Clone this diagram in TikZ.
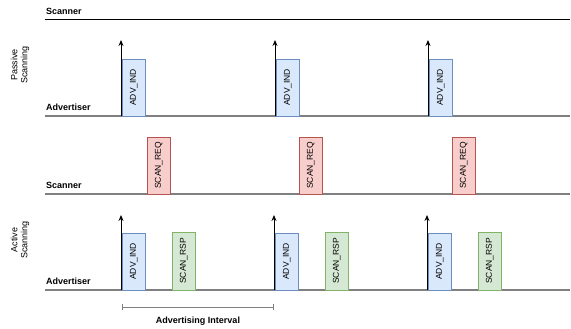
\documentclass[tikz,border=0pt]{standalone}
\usepackage{fontspec}
\setmainfont{Liberation Sans}
\usetikzlibrary{arrows.meta,positioning}
\definecolor{advfill}{HTML}{DAE8FC}
\definecolor{advdraw}{HTML}{6C8EBF}
\definecolor{reqfill}{HTML}{F8CECC}
\definecolor{reqdraw}{HTML}{B85450}
\definecolor{rspfill}{HTML}{D5E8D4}
\definecolor{rspdraw}{HTML}{82B366}
\definecolor{axis}{HTML}{808080}

\begin{document}
\begin{tikzpicture}[
        x=1pt, y=1pt,
        pkt/.style={rectangle, draw, rotate=90, anchor=north west, inner sep=0pt,
            minimum width=57pt, minimum height=23pt, font=\fontsize{8.5}{10}\selectfont},
        adv/.style={pkt, fill=advfill, draw=advdraw},
        req/.style={pkt, fill=reqfill, draw=reqdraw},
        rsp/.style={pkt, fill=rspfill, draw=rspdraw, minimum width=58pt},
        lane/.style={anchor=west, inner sep=0pt, font=\fontsize{9}{10}\selectfont\bfseries},
        side/.style={rotate=90, align=center, font=\fontsize{9}{10}\selectfont},
        timeline/.style={draw=axis, line width=1.3pt},
        tick/.style={-{Stealth[length=6pt,width=5pt]}, line width=0.9pt}
    ]
        \useasboundingbox (0,0) rectangle (571,329);

        % passive scanning
        \coordinate (ps-w) at (45,309);
        \coordinate (ps-e) at (570,309);
        \coordinate (pa-w) at (45,213);
        \coordinate (pa-e) at (570,213);
        \draw[line width=1pt] (ps-w) -- (ps-e);
        \draw[timeline] (pa-w) -- (pa-e);
        \node[lane] (ps-lbl) at (46,318) {Scanner};
        \node[lane] (pa-lbl) at (46,222) {Advertiser};
        \node[side] (passive) at (20,264) {Passive\\Scanning};

        \node[adv] (pind1) at (122,213) {ADV\_IND};
        \node[adv] (pind2) at (276,213) {ADV\_IND};
        \node[adv] (pind3) at (429,213) {ADV\_IND};

        \coordinate (pt1) at (121,289);
        \coordinate (pt2) at (275,289);
        \coordinate (pt3) at (428,289);
        \draw[tick] (121,213) -- (pt1);
        \draw[tick] (275,213) -- (pt2);
        \draw[tick] (428,213) -- (pt3);

        % active scanning
        \coordinate (as-w) at (45,135);
        \coordinate (as-e) at (570,135);
        \coordinate (aa-w) at (45,39);
        \coordinate (aa-e) at (570,39);
        \draw[timeline] (as-w) -- (as-e);
        \draw[timeline] (aa-w) -- (aa-e);
        \node[lane] (as-lbl) at (46,144) {Scanner};
        \node[lane] (aa-lbl) at (46,48) {Advertiser};
        \node[side] (active) at (20,89) {Active\\Scanning};

        \node[req] (req1) at (147,135) {SCAN\_REQ};
        \node[req] (req2) at (299,135) {SCAN\_REQ};
        \node[req] (req3) at (452,135) {SCAN\_REQ};

        \node[adv] (aind1) at (122,39) {ADV\_IND};
        \node[adv] (aind2) at (275,39) {ADV\_IND};
        \node[adv] (aind3) at (428,39) {ADV\_IND};

        \node[rsp] (rsp1) at (172,39) {SCAN\_RSP};
        \node[rsp] (rsp2) at (325,39) {SCAN\_RSP};
        \node[rsp] (rsp3) at (478,39) {SCAN\_RSP};

        \coordinate (at1) at (121,114);
        \coordinate (at2) at (274,114);
        \coordinate (at3) at (427,114);
        \draw[tick] (121,39) -- (at1);
        \draw[tick] (274,39) -- (at2);
        \draw[tick] (427,39) -- (at3);

        % interval bracket
        \coordinate (iv-l) at (122,22);
        \coordinate (iv-r) at (274,22);
        \draw[draw=axis, line width=0.8pt, {Bar[width=6pt]}-{Bar[width=6pt]}] (iv-l) -- (iv-r);
        \node[font=\fontsize{9}{10}\selectfont\bfseries] (iv-lbl) at (198,8) {Advertising Interval};
    \end{tikzpicture}
\end{document}
